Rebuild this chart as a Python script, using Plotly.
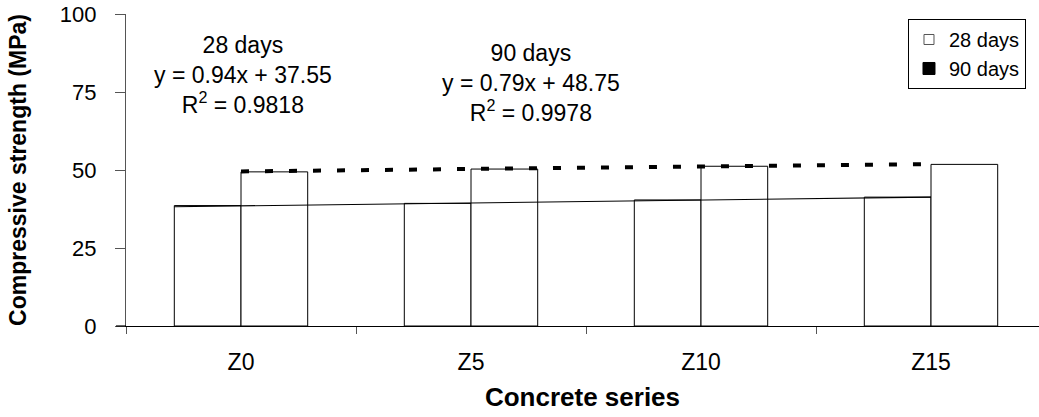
import plotly.graph_objects as go
import numpy as np

# ---- data ----
categories = ["Z0", "Z5", "Z10", "Z15"]
strength_28 = [38.6, 39.3, 40.4, 41.3]
strength_90 = [49.4, 50.3, 51.2, 51.8]
series_names = ["28 days", "90 days"]
trend_slope = [0.94, 0.79]
trend_intercept = [37.55, 48.75]
trend_r2 = [0.9818, 0.9978]
y_ticks = [0, 25, 50, 75, 100]

FONT = "Arial, Liberation Sans, sans-serif"
x_pos = np.arange(1, len(categories) + 1)
bw = 0.29

fig = go.Figure()

fig.add_trace(go.Bar(x=x_pos, y=strength_28, width=bw, offset=-bw, name=series_names[0],
                     marker=dict(color="white", line=dict(color="black", width=1)),
                     showlegend=False))
fig.add_trace(go.Bar(x=x_pos, y=strength_90, width=bw, offset=0, name=series_names[1],
                     marker=dict(color="white", line=dict(color="black", width=1)),
                     showlegend=False))

# trend lines
xs28 = np.array([x_pos[0] - bw, x_pos[-1]])
fig.add_trace(go.Scatter(x=xs28, y=trend_slope[0] * xs28 + trend_intercept[0], mode="lines",
                         line=dict(color="black", width=1.2), showlegend=False, hoverinfo="skip"))
xs90 = np.array([x_pos[0], x_pos[-1]])
fig.add_trace(go.Scatter(x=xs90, y=trend_slope[1] * xs90 + trend_intercept[1], mode="lines",
                         line=dict(color="black", width=4, dash="8px,16px"), showlegend=False,
                         hoverinfo="skip"))

# legend entries
fig.add_trace(go.Scatter(x=[None], y=[None], mode="markers", name=series_names[0], legendgroup="a",
                         marker=dict(symbol="square", size=10, color="white",
                                     line=dict(color="#555", width=1))))
fig.add_trace(go.Scatter(x=[None], y=[None], mode="markers", name=series_names[1], legendgroup="b",
                         marker=dict(symbol="square", size=12, color="black",
                                     line=dict(color="black", width=1))))

# equation annotations
ann_x = [1.01, 2.26]
ann_y = [80.5, 78.0]
for i in range(2):
    txt = (f"{series_names[i]}<br>y = {trend_slope[i]:.2f}x + {trend_intercept[i]:.2f}"
           f"<br>R<sup>2</sup> = {trend_r2[i]:.4f}")
    fig.add_annotation(x=ann_x[i], y=ann_y[i], text=txt, showarrow=False, align="center",
                       xanchor="center", yanchor="middle", font=dict(family=FONT, size=23, color="black"))

# x-axis line extension to the left of the y axis (as in the reference)
fig.add_shape(type="line", xref="paper", yref="paper", x0=-10 / 913, x1=0, y0=0, y1=0,
              line=dict(color="black", width=1.2))

fig.update_layout(
    width=1039, height=417,
    margin=dict(l=126, r=0, t=14, b=91),
    plot_bgcolor="white", paper_bgcolor="white",
    barmode="overlay",
    font=dict(family=FONT, color="black"),
    legend=dict(x=0.8565, y=0.984, xanchor="left", yanchor="top",
                bordercolor="black", borderwidth=1, bgcolor="white",
                font=dict(family=FONT, size=20), tracegroupgap=0, itemwidth=30),
    xaxis=dict(range=[0.5, 0.5 + 913 / 230], tickvals=list(x_pos), ticktext=categories,
               ticks="outside", ticklen=15, tickcolor="rgba(0,0,0,0)",
               tickfont=dict(family=FONT, size=23),
               minor=dict(tickvals=[0.5, 1.5, 2.5, 3.5], ticks="outside", ticklen=7,
                          tickcolor="#555", tickwidth=1),
               showline=True, linecolor="black", linewidth=1.2, showgrid=False, zeroline=False,
               title=dict(text="<b>Concrete series</b>", font=dict(family=FONT, size=26), standoff=14)),
    yaxis=dict(range=[0, 100], tickvals=y_ticks, ticks="outside", ticklen=10, tickcolor="#555",
               tickfont=dict(family=FONT, size=22), ticklabelstandoff=14,
               showline=True, linecolor="#555", linewidth=1.2, showgrid=False, zeroline=False,
               title=dict(text="<b>Compressive strength (MPa)</b>", font=dict(family=FONT, size=23),
                          standoff=26)),
)

fig.write_html("out.html")
